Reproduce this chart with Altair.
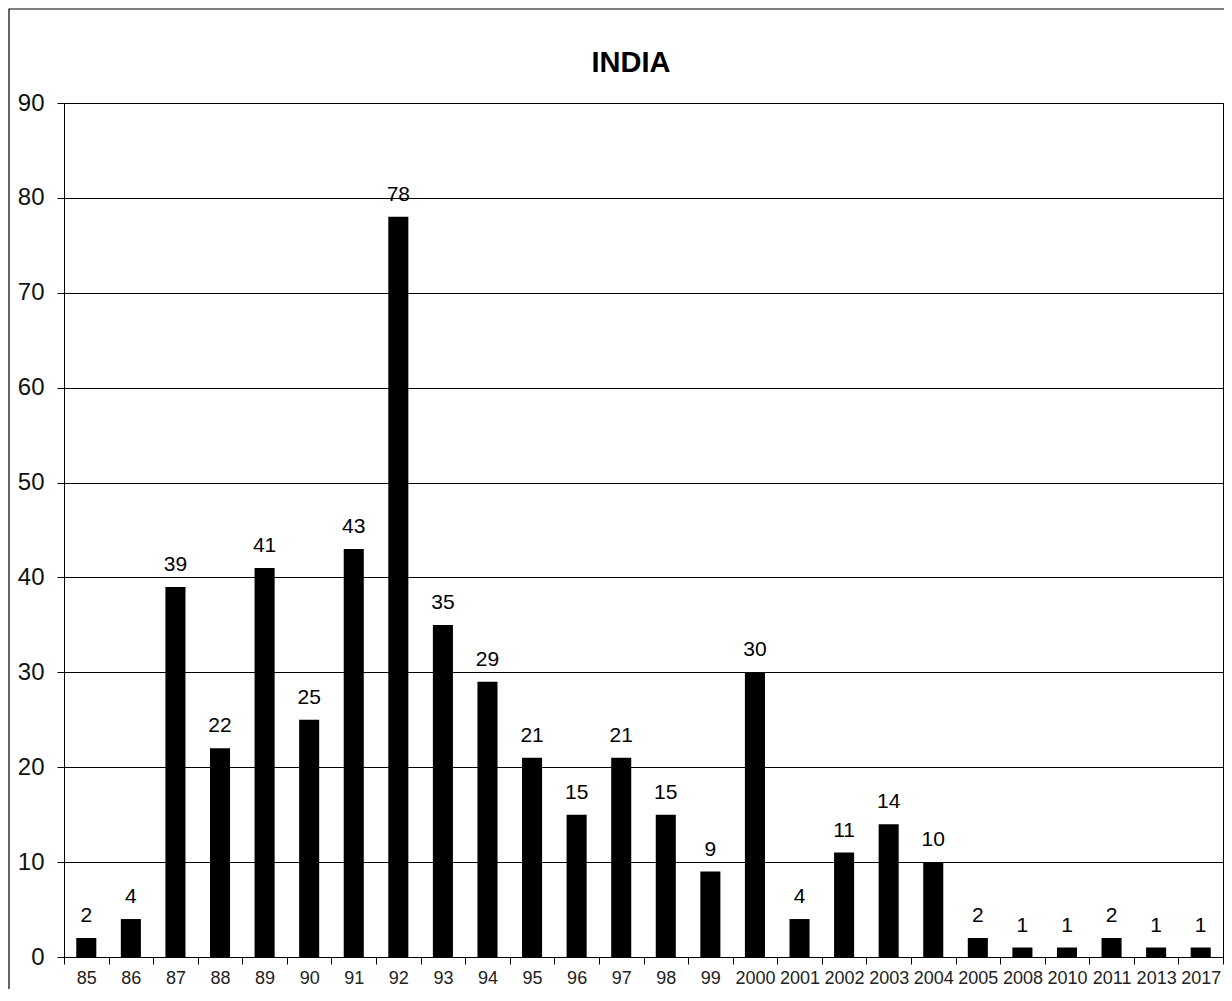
import altair as alt
import pandas as pd

years = ["85", "86", "87", "88", "89", "90", "91", "92", "93", "94", "95", "96", "97",
         "98", "99", "2000", "2001", "2002", "2003", "2004", "2005", "2008", "2010",
         "2011", "2013", "2017"]
counts = [2, 4, 39, 22, 41, 25, 43, 78, 35, 29, 21, 15, 21, 15, 9, 30, 4, 11, 14, 10,
          2, 1, 1, 2, 1, 1]
title_text = "INDIA"
y_ticks = [0, 10, 20, 30, 40, 50, 60, 70, 80, 90]

df = pd.DataFrame({"year": years, "count": counts})
one = pd.DataFrame({"title": [title_text]})

FONT = "Liberation Sans"
W, H = 1159, 854

x_enc = alt.X("year:N", sort=years, title=None,
              scale=alt.Scale(paddingInner=0, paddingOuter=0),
              axis=alt.Axis(labelAngle=0, labelFontSize=18, labelColor="#222222",
                            labelFont=FONT, tickBand="extent", tickSize=7,
                            tickColor="black", domainColor="black", labelPadding=5,
                            grid=False))
y_enc = alt.Y("count:Q", title=None,
              scale=alt.Scale(domain=[0, 90], nice=False),
              axis=alt.Axis(values=y_ticks, labelFontSize=24, labelColor="#111111",
                            labelFont=FONT, tickSize=7, tickColor="black",
                            domainColor="black", gridColor="black", gridOpacity=1,
                            labelPadding=13, grid=True))

bars = alt.Chart(df).mark_bar(color="black", width=alt.RelativeBandSize(0.45)).encode(
    x=x_enc, y=y_enc)

labels = alt.Chart(df).mark_text(baseline="alphabetic", dy=-16, fontSize=21,
                                 font=FONT, color="black").encode(
    x=alt.X("year:N", sort=years),
    y=alt.Y("count:Q"),
    text="count:Q")

title = alt.Chart(one).mark_text(baseline="alphabetic", fontSize=29, fontWeight="bold",
                                 font=FONT, color="black", align="center").encode(
    x=alt.value(567), y=alt.value(-31), text="title:N")

frame = alt.Chart(one).mark_rect(fill=None, stroke="black", strokeWidth=1.2).encode(
    x=alt.value(-55), x2=alt.value(W + 60), y=alt.value(-94), y2=alt.value(H + 80))

chart = alt.layer(bars, labels, title, frame).properties(
    width=W, height=H,
    autosize=alt.AutoSizeParams(type="none"),
    padding={"left": 56, "top": 95, "right": 1, "bottom": 32},
).configure_view(stroke="black", strokeWidth=1).configure_axis(
    domainWidth=1, tickWidth=1, gridWidth=1)

chart.save("out.html", embed_options={"renderer": "svg", "actions": False})
